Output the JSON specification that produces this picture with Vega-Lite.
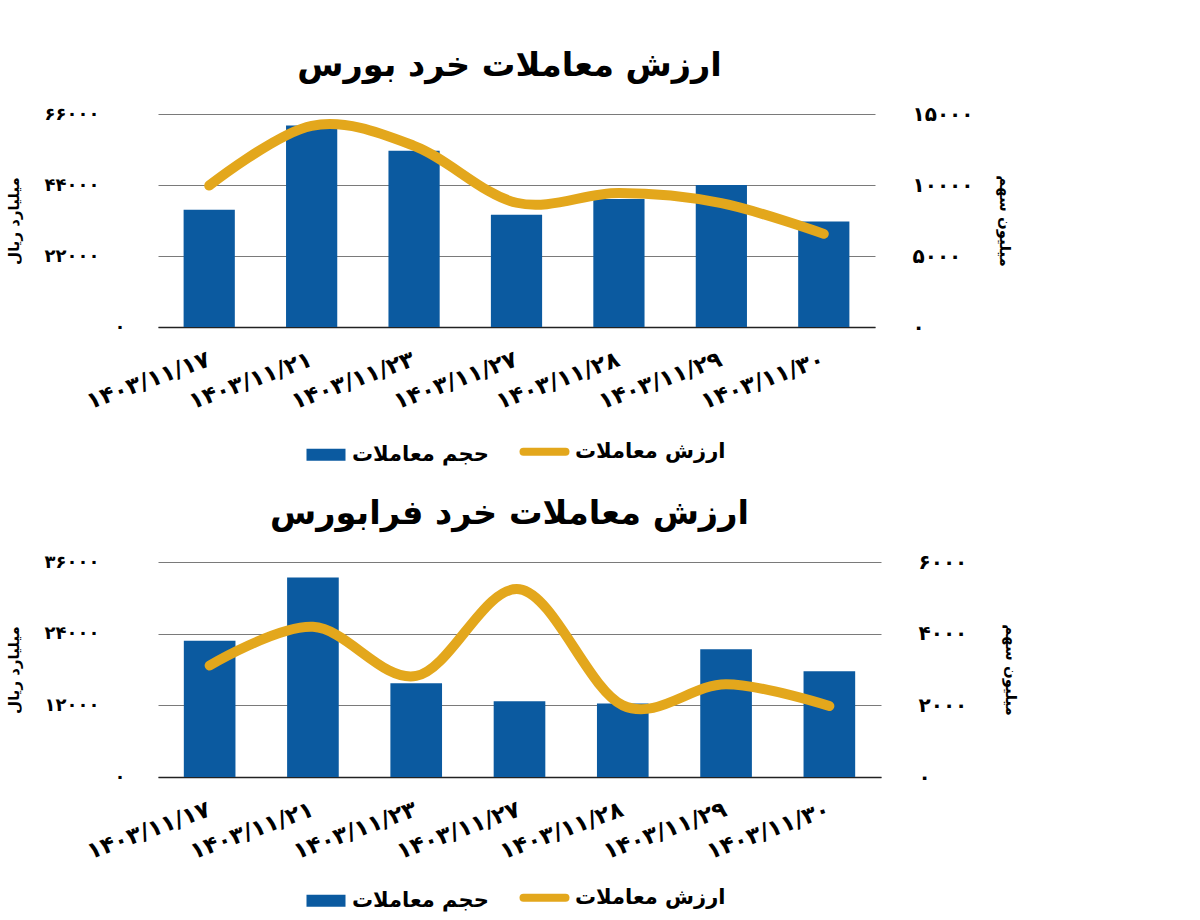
{
  "$schema": "https://vega.github.io/schema/vega-lite/v6.json",
  "padding": {"left": 6, "top": 48, "right": 5, "bottom": 5},
  "background": "white",
  "config": {
    "font": "DejaVu Sans",
    "view": {"stroke": null},
    "axis": {"labelFont": "DejaVu Sans", "titleFont": "DejaVu Sans", "labelFontWeight": "bold", "titleFontWeight": "bold", "labelColor": "#000", "titleColor": "#000"},
    "legend": {"labelFont": "DejaVu Sans", "labelFontWeight": "bold", "labelColor": "#000"},
    "title": {"font": "DejaVu Sans", "fontWeight": "bold", "color": "#000"}
  },
  "datasets": {
    "bourse": [
      {"date": "۱۴۰۳/۱۱/۱۷", "volume": 36300, "value": 9960},
      {"date": "۱۴۰۳/۱۱/۲۱", "volume": 62400, "value": 14170},
      {"date": "۱۴۰۳/۱۱/۲۳", "volume": 54600, "value": 12760},
      {"date": "۱۴۰۳/۱۱/۲۷", "volume": 34800, "value": 8750},
      {"date": "۱۴۰۳/۱۱/۲۸", "volume": 39700, "value": 9430},
      {"date": "۱۴۰۳/۱۱/۲۹", "volume": 44000, "value": 8720},
      {"date": "۱۴۰۳/۱۱/۳۰", "volume": 32700, "value": 6560}
    ],
    "farabourse": [
      {"date": "۱۴۰۳/۱۱/۱۷", "volume": 22800, "value": 3110},
      {"date": "۱۴۰۳/۱۱/۲۱", "volume": 33400, "value": 4190},
      {"date": "۱۴۰۳/۱۱/۲۳", "volume": 15700, "value": 2820},
      {"date": "۱۴۰۳/۱۱/۲۷", "volume": 12700, "value": 5240},
      {"date": "۱۴۰۳/۱۱/۲۸", "volume": 12300, "value": 2000},
      {"date": "۱۴۰۳/۱۱/۲۹", "volume": 21400, "value": 2590},
      {"date": "۱۴۰۳/۱۱/۳۰", "volume": 17700, "value": 1980}
    ]
  },
  "vconcat": [
    {
      "title": {"text": "ارزش معاملات خرد بورس", "fontSize": 33.5, "offset": 21, "dx": -7},
      "width": 717,
      "height": 213,
      "data": {"name": "bourse"},
      "encoding": {
        "x": {
          "field": "date", "type": "nominal", "sort": null,
          "scale": {"paddingInner": 0.5, "paddingOuter": 0.25},
          "axis": {"title": null, "labelAngle": -20, "labelAlign": "right", "labelBaseline": "top", "labelFontSize": 23, "labelPadding": 21, "labelOffset": -4, "ticks": false, "domainColor": "#222", "domainWidth": 1.5, "labelLimit": 300}
        }
      },
      "layer": [
        {
          "mark": {"type": "bar", "color": "#0b5aa0"},
          "encoding": {
            "y": {
              "field": "volume", "type": "quantitative",
              "scale": {"domain": [0, 66000]},
              "axis": {"title": "میلیارد ریال", "titleFontSize": 15, "titleX": -145, "titleY": 106.5, "titleBaseline": "middle", "titleAlign": "center", "values": [0, 22000, 44000, 66000], "labelFontSize": 18, "labelAlign": "left",
                "labelPadding": {"condition": {"test": "datum.value === 0", "value": 44}, "value": 114},
                "ticks": false, "domain": false, "gridColor": "#7a7a7a", "gridWidth": 1,
                "labelExpr": "replace(replace(replace(replace(replace(replace(replace(replace(replace(replace(format(datum.value,'d'),regexp('0','g'),'۰'),regexp('1','g'),'۱'),regexp('2','g'),'۲'),regexp('3','g'),'۳'),regexp('4','g'),'۴'),regexp('5','g'),'۵'),regexp('6','g'),'۶'),regexp('7','g'),'۷'),regexp('8','g'),'۸'),regexp('9','g'),'۹')"}
            },
            "color": {
              "datum": "حجم معاملات", "type": "nominal",
              "scale": {"domain": ["حجم معاملات", "ارزش معاملات"], "range": ["#0b5aa0", "#e3a71c"]},
              "legend": {
                "title": null, "orient": "none", "direction": "horizontal", "legendX": 138, "legendY": 327,
                "padding": 0, "symbolSize": 400, "labelOffset": 35, "labelFontSize": 21, "labelLimit": 300, "columnPadding": 18,
                "encode": {
                  "symbols": {"update": {
                    "shape": {"signal": "datum.value === 'حجم معاملات' ? 'M0,-0.6H3.9V0.6H0Z' : 'M-0.6,0H3.6'"},
                    "fill": {"signal": "datum.value === 'حجم معاملات' ? '#0b5aa0' : 'transparent'"},
                    "stroke": {"signal": "datum.value === 'حجم معاملات' ? 'transparent' : '#e3a71c'"},
                    "strokeWidth": {"signal": "datum.value === 'حجم معاملات' ? 0 : 8"},
                    "strokeCap": {"value": "round"},
                    "opacity": {"value": 1}
                  }}
                }
              }
            }
          }
        },
        {
          "mark": {"type": "line", "color": "#e3a71c", "strokeWidth": 10, "strokeCap": "round", "interpolate": "cardinal", "tension": 0},
          "encoding": {
            "y": {
              "field": "value", "type": "quantitative",
              "scale": {"domain": [0, 15000]},
              "axis": {"orient": "right", "title": "میلیون سهم", "titleFontSize": 15, "titleX": 129, "titleY": 106.5, "titleBaseline": "middle", "titleAlign": "center", "titleAngle": 90, "values": [0, 5000, 10000, 15000], "labelFontSize": 20, "labelPadding": 37, "ticks": false, "domain": false, "grid": false,
                "labelExpr": "replace(replace(replace(replace(replace(replace(replace(replace(replace(replace(format(datum.value,'d'),regexp('0','g'),'۰'),regexp('1','g'),'۱'),regexp('2','g'),'۲'),regexp('3','g'),'۳'),regexp('4','g'),'۴'),regexp('5','g'),'۵'),regexp('6','g'),'۶'),regexp('7','g'),'۷'),regexp('8','g'),'۸'),regexp('9','g'),'۹')"}
            },
            "color": {"datum": "ارزش معاملات", "type": "nominal"}
          }
        }
      ],
      "resolve": {"scale": {"y": "independent"}}
    },
    {
      "title": {"text": "ارزش معاملات خرد فرابورس", "fontSize": 33.5, "offset": 21, "dx": -10},
      "width": 723,
      "height": 215,
      "data": {"name": "farabourse"},
      "encoding": {
        "x": {
          "field": "date", "type": "nominal", "sort": null,
          "scale": {"paddingInner": 0.5, "paddingOuter": 0.25},
          "axis": {"title": null, "labelAngle": -20, "labelAlign": "right", "labelBaseline": "top", "labelFontSize": 23, "labelPadding": 21, "labelOffset": -4, "ticks": false, "domainColor": "#222", "domainWidth": 1.5, "labelLimit": 300}
        }
      },
      "layer": [
        {
          "mark": {"type": "bar", "color": "#0b5aa0"},
          "encoding": {
            "y": {
              "field": "volume", "type": "quantitative",
              "scale": {"domain": [0, 36000]},
              "axis": {"title": "میلیارد ریال", "titleFontSize": 15, "titleX": -145, "titleY": 107.5, "titleBaseline": "middle", "titleAlign": "center", "values": [0, 12000, 24000, 36000], "labelFontSize": 18, "labelAlign": "left",
                "labelPadding": {"condition": {"test": "datum.value === 0", "value": 44}, "value": 114},
                "ticks": false, "domain": false, "gridColor": "#7a7a7a", "gridWidth": 1,
                "labelExpr": "replace(replace(replace(replace(replace(replace(replace(replace(replace(replace(format(datum.value,'d'),regexp('0','g'),'۰'),regexp('1','g'),'۱'),regexp('2','g'),'۲'),regexp('3','g'),'۳'),regexp('4','g'),'۴'),regexp('5','g'),'۵'),regexp('6','g'),'۶'),regexp('7','g'),'۷'),regexp('8','g'),'۸'),regexp('9','g'),'۹')"}
            },
            "color": {
              "datum": "حجم معاملات", "type": "nominal",
              "scale": {"domain": ["حجم معاملات", "ارزش معاملات"], "range": ["#0b5aa0", "#e3a71c"]},
              "legend": {
                "title": null, "orient": "none", "direction": "horizontal", "legendX": 138, "legendY": 325,
                "padding": 0, "symbolSize": 400, "labelOffset": 35, "labelFontSize": 21, "labelLimit": 300, "columnPadding": 18,
                "encode": {
                  "symbols": {"update": {
                    "shape": {"signal": "datum.value === 'حجم معاملات' ? 'M0,-0.6H3.9V0.6H0Z' : 'M-0.6,0H3.6'"},
                    "fill": {"signal": "datum.value === 'حجم معاملات' ? '#0b5aa0' : 'transparent'"},
                    "stroke": {"signal": "datum.value === 'حجم معاملات' ? 'transparent' : '#e3a71c'"},
                    "strokeWidth": {"signal": "datum.value === 'حجم معاملات' ? 0 : 8"},
                    "strokeCap": {"value": "round"},
                    "opacity": {"value": 1}
                  }}
                }
              }
            }
          }
        },
        {
          "mark": {"type": "line", "color": "#e3a71c", "strokeWidth": 10, "strokeCap": "round", "interpolate": "cardinal", "tension": 0},
          "encoding": {
            "y": {
              "field": "value", "type": "quantitative",
              "scale": {"domain": [0, 6000]},
              "axis": {"orient": "right", "title": "میلیون سهم", "titleFontSize": 15, "titleX": 129, "titleY": 107.5, "titleBaseline": "middle", "titleAlign": "center", "titleAngle": 90, "values": [0, 2000, 4000, 6000], "labelFontSize": 20, "labelPadding": 37, "ticks": false, "domain": false, "grid": false,
                "labelExpr": "replace(replace(replace(replace(replace(replace(replace(replace(replace(replace(format(datum.value,'d'),regexp('0','g'),'۰'),regexp('1','g'),'۱'),regexp('2','g'),'۲'),regexp('3','g'),'۳'),regexp('4','g'),'۴'),regexp('5','g'),'۵'),regexp('6','g'),'۶'),regexp('7','g'),'۷'),regexp('8','g'),'۸'),regexp('9','g'),'۹')"}
            },
            "color": {"datum": "ارزش معاملات", "type": "nominal"}
          }
        }
      ],
      "resolve": {"scale": {"y": "independent"}}
    }
  ],
  "spacing": 28,
  "resolve": {"scale": {"color": "independent"}, "legend": {"color": "independent"}}
}
